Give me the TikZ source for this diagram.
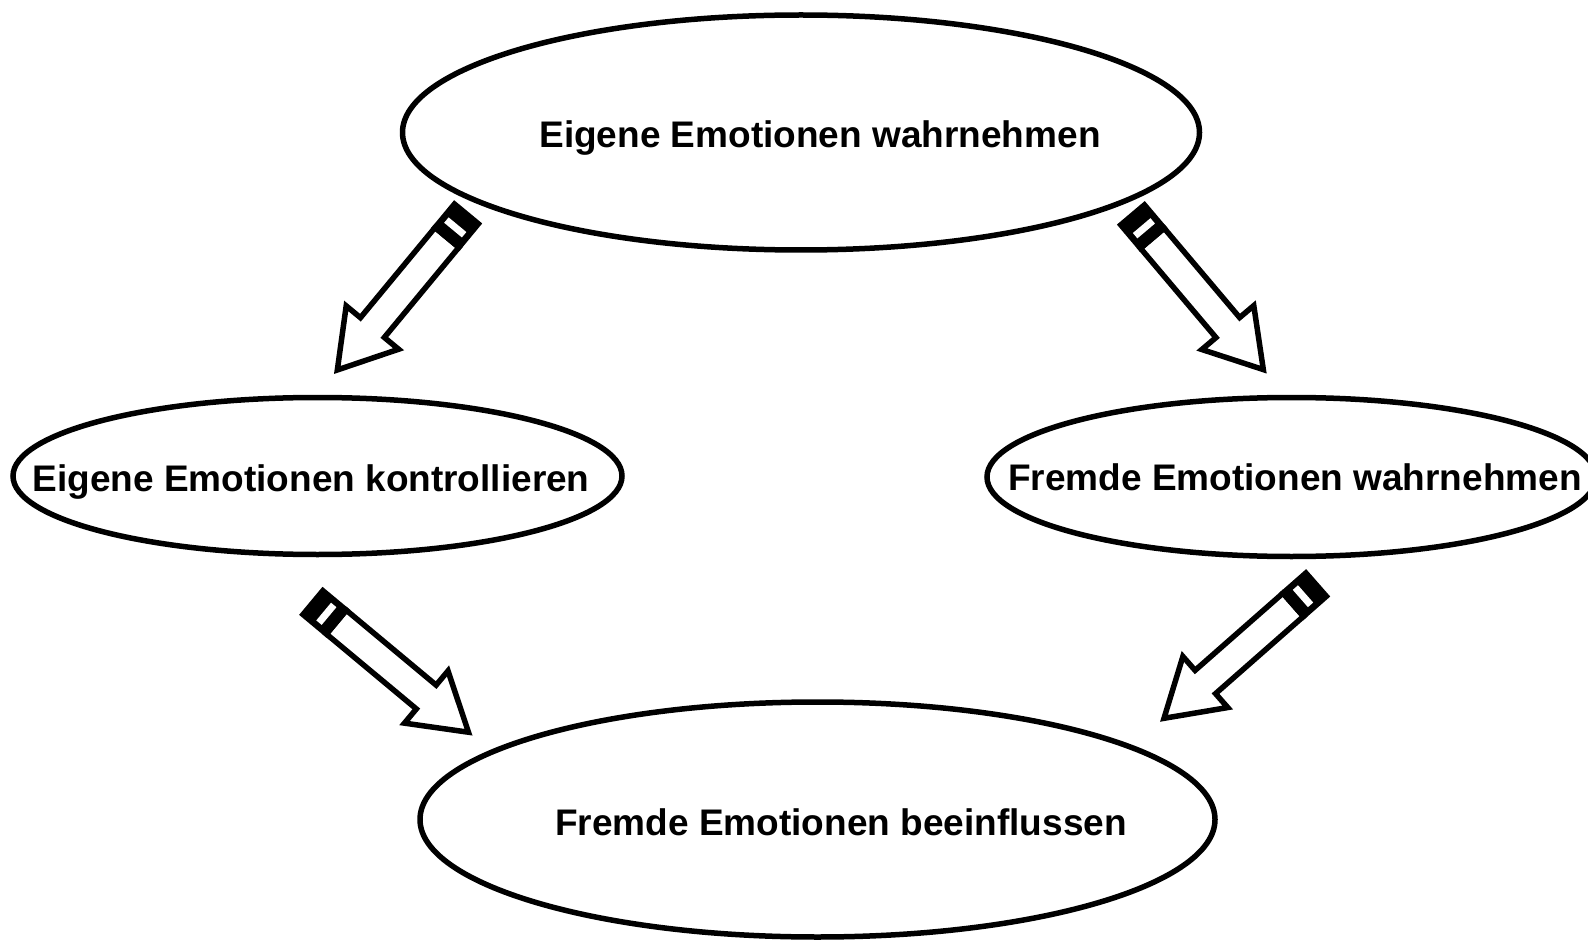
\documentclass[tikz,border=0pt]{standalone}
\usepackage{fontspec}
\setmainfont{Liberation Sans}
\usetikzlibrary{shapes.geometric}
\tikzset{
  bubble/.style={draw, ellipse, line width=5.5pt, inner sep=0pt, fill=white},
  caption/.style={font=\fontsize{37}{40}\selectfont\bfseries, inner sep=0pt, anchor=base},
  pencilline/.style={line width=5.5pt, line join=miter, miter limit=10},
  pencil/.pic={
    % shaft and head
    \draw[pencilline, fill=white]
      (33,-15.5) -- (150,-15.5) -- (150,-34) -- (205,0) -- (150,34) -- (150,15.5) -- (33,15.5) -- cycle;
    % dark end cap with a slot
    \draw[pencilline, fill=black] (2.5,-15.5) rectangle (33,15.5);
    \fill[white] (16.5,-11.5) rectangle (23.5,11.5);
  }
}
\begin{document}
\begin{tikzpicture}[x=1pt, y=-1pt]
  \useasboundingbox (0,0) rectangle (1588,941);

  \node[bubble, minimum width=797pt, minimum height=235pt] (top) at (801,132.5) {};
  \node[bubble, minimum width=609pt, minimum height=157pt] (left) at (317.5,476) {};
  \node[bubble, minimum width=609pt, minimum height=159pt] (right) at (1291.5,477) {};
  \node[bubble, minimum width=795pt, minimum height=235pt] (bottom) at (817.5,819.5) {};

  \node[caption] (ttop) at (820,148) {Eigene Emotionen wahrnehmen};
  \node[caption] (tleft) at (311,491.5) {Eigene Emotionen kontrollieren};
  \node[caption] (tright) at (1295,490) {Fremde Emotionen wahrnehmen};
  \node[caption] (tbottom) at (841,835.5) {Fremde Emotionen beeinflussen};

  % block arrows between the ellipses
  \coordinate (a1) at (468,212);
  \coordinate (a2) at (1131,213);
  \coordinate (a3) at (311,601);
  \coordinate (a4) at (1318,583);
  \pic[rotate=-129.6] at (a1) {pencil};
  \pic[rotate=-49.8] at (a2) {pencil};
  \pic[rotate=-39.8] at (a3) {pencil};
  \pic[rotate=-138.7] at (a4) {pencil};
\end{tikzpicture}
\end{document}
